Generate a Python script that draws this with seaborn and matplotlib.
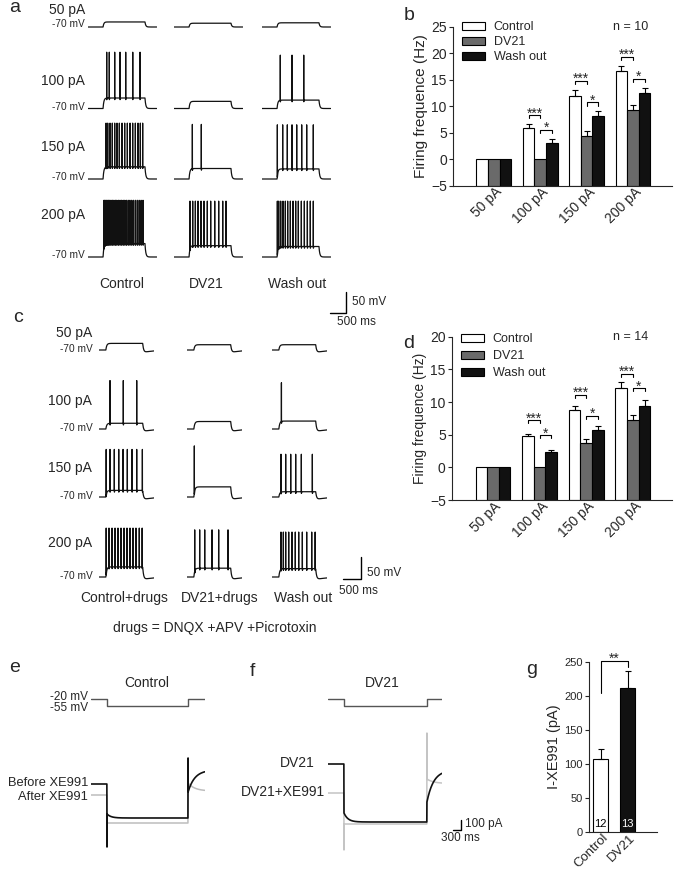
import numpy as np
import pandas as pd
import seaborn as sns
import matplotlib.pyplot as plt
from matplotlib.patches import Patch
from matplotlib.transforms import ScaledTranslation

# ---------------- values ----------------
currents = ['50 pA', '100 pA', '150 pA', '200 pA']
conditions = ['Control', 'DV21', 'Wash out']
bar_colors = ['white', '#6a6a6a', '#111111']

# b: firing frequency (Hz), n = 10
b_control = [0, 5.8, 12.0, 16.7]
b_dv21 = [0, 0, 4.4, 9.3]
b_wash = [0, 3.1, 8.1, 12.4]
b_control_err = [0, 0.8, 1.0, 0.9]
b_dv21_err = [0, 0, 1.0, 0.9]
b_wash_err = [0, 0.8, 1.0, 1.0]
b_sig_high = [8.3, 14.8, 19.3]   # *** brackets at 100/150/200 pA
b_sig_low = [5.6, 10.7, 15.2]    # * brackets

# d: firing frequency (Hz), n = 14
d_control = [0, 4.8, 8.8, 12.2]
d_dv21 = [0, 0, 3.7, 7.2]
d_wash = [0, 2.3, 5.7, 9.4]
d_control_err = [0, 0.3, 0.6, 0.8]
d_dv21_err = [0, 0, 0.6, 0.8]
d_wash_err = [0, 0.35, 0.7, 0.9]
d_sig_high = [7.2, 11.1, 14.3]
d_sig_low = [4.9, 7.9, 12.1]

# g: XE991-sensitive current (pA)
g_groups = ['Control', 'DV21']
g_current = [107, 212]
g_err = [16, 25]
g_n = ['12', '13']
g_sig = [205, 252, 243]   # left foot, top, right foot of ** bracket

# a: current-clamp sweeps (mV), rows = 50/100/150/200 pA
a_step = [470, 1780, 2150]          # step on, step off, sweep end (ms)
a_plateau_control = [-58, -45, -41, -38]
a_plateau_dv21 = [-61, -53, -45, -43]
a_plateau_wash = [-60, -50, -46, -45]
a_peak_control = [0, 64, 63, 65]
a_peak_dv21 = [0, 0, 60, 63]
a_peak_wash = [0, 57, 59, 63]
a_spikes_control = [[], [584, 666, 834, 1000, 1178, 1397, 1625],
                    [563, 615, 688, 760, 833, 906, 979, 1063, 1146, 1229, 1313, 1396, 1479, 1563, 1635, 1708],
                    [500, 530, 565, 600, 640, 680, 720, 765, 810, 855, 900, 950, 1000, 1050, 1100, 1150,
                     1200, 1255, 1310, 1365, 1420, 1480, 1540, 1600, 1660, 1720]]
a_spikes_dv21 = [[], [], [573, 854],
                 [500, 583, 667, 750, 844, 938, 1042, 1146, 1271, 1396, 1521, 1625]]
a_spikes_wash = [[], [572, 938, 1303],
                 [479, 646, 792, 938, 1084, 1240, 1396, 1604],
                 [480, 521, 583, 656, 729, 802, 885, 969, 1052, 1135, 1229, 1323, 1417, 1510, 1604]]

# c: same protocol with DNQX + APV + Picrotoxin
c_step = [190, 1215, 1530]
c_plateau_control = [-55, -57, -55, -47]
c_plateau_dv21 = [-58, -53, -47, -50]
c_plateau_wash = [-58, -52, -58, -51]
c_peak_control = [0, 40, 38, 41]
c_peak_dv21 = [0, 0, 46, 37]
c_peak_wash = [0, 35, 27, 32]
c_spikes_control = [[], [306, 676, 1047],
                    [200, 306, 426, 547, 667, 788, 917, 1047, 1205],
                    [200, 278, 361, 445, 528, 612, 695, 778, 861, 945, 1028, 1120, 1200]]
c_spikes_dv21 = [[], [], [204], [213, 352, 491, 695, 880, 1139]]
c_spikes_wash = [[], [261], [250, 380, 519, 658, 815, 1121],
                 [250, 315, 380, 463, 556, 648, 741, 843, 963, 1103, 1200]]

# e/f: voltage-clamp, command -20 -> -55 mV; currents (pA): hold, step, tail start, tail end
ef_command = [-20, -55]
ef_step = [600, 3640, 4275]
e_before = [0, -340, -80, 140]
e_after = [-110, -390, 10, -70]
e_transient = [-630, 260]
f_step = [600, 3710, 4275]
f_dv21 = [0, -580, -380, -60]
f_dv21_xe = [-290, -600, -150, -195]
f_transient = [-860, 310]

# ---------------- figure ----------------
sns.set_style('ticks')
plt.rcParams['font.family'] = ['Liberation Sans', 'DejaVu Sans']
plt.rcParams['axes.linewidth'] = 0.8

W, H = 675, 875
fig = plt.figure(figsize=(W / 100, H / 100), dpi=100)


def px_rect(left, top, right, bottom):
    return [left / W, 1 - bottom / H, (right - left) / W, (bottom - top) / H]


def label(x, y, s, size=10, **kw):
    kw.setdefault('va', 'center')
    fig.text(x / W, 1 - y / H, s, fontsize=size, **kw)


def cc_trace(step, plateau, peak, spikes, ahp=0):
    on, off, end = step
    t = np.arange(0, end, 2.0)
    rise = 1 - np.exp(-np.clip(t - on, 0, None) / 25)
    decay = np.exp(-np.clip(t - off, 0, None) / 25)
    v = -70 + (plateau + 70) * rise * decay
    v += ahp * (1 - decay) * np.exp(-np.clip(t - off, 0, None) / 300)
    k = np.arange(1, 12)
    for s in spikes:
        i = np.searchsorted(t, s)
        v[i] = peak
        v[i + k] -= 5 * np.exp(-k / 4)
    return t, v


def vc_trace(step, levels, overshoot=0.0, transient=None):
    on, off, end = step
    hold, during, tail0, tail1 = levels
    t = np.arange(0, end, 5.0)
    i = np.where(t < on, hold, during + overshoot * np.exp(-np.clip(t - on, 0, None) / 150))
    after = t >= off
    i[after] = tail1 + (tail0 - tail1) * np.exp(-(t[after] - off) / 250)
    if transient is not None:
        i[np.searchsorted(t, on)] = transient[0]
        i[np.searchsorted(t, off)] = transient[1]
    return t, i


def cc_panel(col_x, row_base, ms_px, mv_px, step, columns, ahp):
    axes = []
    for (plateau, peak, spikes), x0 in zip(columns, col_x):
        for r, base in enumerate(row_base):
            ax = fig.add_axes(px_rect(x0, base - 150 / mv_px, x0 + step[2] / ms_px, base + 25 / mv_px))
            t, v = cc_trace(step, plateau[r], peak[r], spikes[r], ahp)
            ax.plot(t, v, color='#111111', lw=0.9)
            ax.set_xlim(0, step[2])
            ax.set_ylim(-95, 80)
            ax.axis('off')
            axes.append(ax)
    return axes


def scale_bar(ax, x, y, dx, dy):
    ax.plot([x - dx, x, x], [y, y, y + dy], color='k', lw=1, clip_on=False)


def bracket(ax, x1, x2, h, arm, text):
    ax.plot([x1, x1, x2, x2], [h - arm, h, h, h - arm], color='k', lw=0.8, clip_on=False)
    ax.annotate(text, (0.5 * (x1 + x2), h), xytext=(0, -1.5), textcoords='offset points',
                ha='center', va='baseline', fontsize=10, annotation_clip=False)


def shift_ticklabels(ax, dx_px):
    for lab in ax.get_xticklabels():
        lab.set_transform(lab.get_transform() + ScaledTranslation(dx_px / 100, 0, fig.dpi_scale_trans))


def bar_panel(ax, values, errors, sig_high, sig_low, ymax, arm, n_text, ylab_size, leg_anchor, leg_space):
    df = pd.DataFrame({'current': currents * 3,
                       'condition': np.repeat(conditions, len(currents)),
                       'freq': sum(values, [])})
    sns.barplot(data=df, x='current', y='freq', hue='condition', palette=bar_colors,
                saturation=1, width=0.75, edgecolor='k', linewidth=0.8,
                errorbar=None, legend=False, ax=ax)
    bars = list(ax.containers)
    for cont, errs in zip(bars, errors):
        for p, e in zip(cont, errs):
            top = p.get_y() + p.get_height()
            p.set_y(-5)
            p.set_height(top + 5)
            if e > 0:
                ax.errorbar(p.get_x() + p.get_width() / 2, top, yerr=[[0], [e]], fmt='none',
                            ecolor='k', elinewidth=0.8, capsize=2.2, capthick=0.8)
    centers = [[p.get_x() + p.get_width() / 2 for p in cont] for cont in bars]
    for g in range(1, len(currents)):
        bracket(ax, centers[0][g], centers[1][g], sig_high[g - 1], arm, '***')
        bracket(ax, centers[1][g], centers[2][g], sig_low[g - 1], arm, '*')
    ax.set_ylim(-5, ymax)
    ax.set_yticks(range(-5, ymax + 1, 5))
    ax.set_xlim(-0.88, 3.84)
    ax.set_xlabel('')
    ax.set_ylabel('Firing frequence (Hz)', fontsize=ylab_size, labelpad=2)
    ax.tick_params(axis='y', labelsize=10, length=3, width=0.8, pad=1.5)
    ax.tick_params(axis='x', labelsize=10, length=0, pad=3)
    plt.setp(ax.get_xticklabels(), rotation=45, ha='right', va='center', rotation_mode='anchor')
    shift_ticklabels(ax, 6)
    sns.despine(ax=ax)
    handles = [Patch(facecolor=c, edgecolor='k', linewidth=0.8, label=l)
               for c, l in zip(bar_colors, conditions)]
    ax.legend(handles=handles, loc='upper left', bbox_to_anchor=leg_anchor, frameon=False,
              fontsize=9, handlelength=1.85, handleheight=0.65, labelspacing=leg_space,
              handletextpad=0.7, borderaxespad=0, borderpad=0)
    ax.text(0.81, 1.0, n_text, transform=ax.transAxes, fontsize=9, ha='center', va='center')


# ---- panel a ----
a_axes = cc_panel([88, 174, 262], [27, 108.5, 179, 257], 31.25, 2.381, a_step,
                  [(a_plateau_control, a_peak_control, a_spikes_control),
                   (a_plateau_dv21, a_peak_dv21, a_spikes_dv21),
                   (a_plateau_wash, a_peak_wash, a_spikes_wash)], 0)
scale_bar(a_axes[-1], 2625, -203, 500, 50)
for y_lab, y_mv, txt in zip([10, 81, 147, 215], [24, 107.5, 177, 255], currents):
    label(85, y_lab, txt, ha='right')
    label(85, y_mv, '-70 mV', size=7.3, ha='right')
for x, txt in zip([122, 206, 297], conditions):
    label(x, 284, txt, ha='center')
label(352, 302, '50 mV', size=8.5)
label(356, 322, '500 ms', size=8.5, ha='center')

# ---- panel c ----
c_axes = cc_panel([99, 187, 272], [350, 429, 497, 577], 27.8, 2.27, c_step,
                  [(c_plateau_control, c_peak_control, c_spikes_control),
                   (c_plateau_dv21, c_peak_dv21, c_spikes_dv21),
                   (c_plateau_wash, c_peak_wash, c_spikes_wash)], -6)
scale_bar(c_axes[-1], 2474, -74.5, 500, 50)
for y_lab, y_mv, txt in zip([333.5, 401, 468, 543.5], [349, 428, 496, 575.7], currents):
    label(92, y_lab, txt, ha='right')
    label(93, y_mv, '-70 mV', size=7.3, ha='right')
for x, txt in zip([124, 220, 303], ['Control+drugs', 'DV21+drugs', 'Wash out']):
    label(x, 598, txt, ha='center')
label(367, 573, '50 mV', size=8.5)
label(358, 591, '500 ms', size=8.5, ha='center')
label(215, 628, 'drugs = DNQX +APV +Picrotoxin', ha='center')

# ---- panels b and d ----
ax_b = fig.add_axes(px_rect(453, 26.7, 672, 185.7))
bar_panel(ax_b, [b_control, b_dv21, b_wash], [b_control_err, b_dv21_err, b_wash_err],
          b_sig_high, b_sig_low, 25, 0.57, 'n = 10', 11, (0.04, 1.035), 0.25)
ax_d = fig.add_axes(px_rect(452, 336.7, 672, 500))
bar_panel(ax_d, [d_control, d_dv21, d_wash], [d_control_err, d_dv21_err, d_wash_err],
          d_sig_high, d_sig_low, 20, 0.46, 'n = 14', 10, (0.04, 1.02), 0.4)

# ---- panels e and f ----
for (x0, x1), step, title, tx in [((91, 205), ef_step, 'Control', 147), ((328, 442), f_step, 'DV21', 382)]:
    ax = fig.add_axes(px_rect(x0, 690, x1, 715))
    on, off, end = step
    ax.plot([0, on, on, off, off, end],
            [ef_command[0], ef_command[0], ef_command[1], ef_command[1], ef_command[0], ef_command[0]],
            color='#555555', lw=1)
    ax.set_xlim(0, end)
    ax.set_ylim(-100, 25)
    ax.axis('off')
    label(tx, 683, title, ha='center')

ax_e = fig.add_axes(px_rect(91, 730, 205, 860))
t, i = vc_trace(ef_step, e_after)
ax_e.plot(t, i, color='#bdbdbd', lw=1.1)
t, i = vc_trace(ef_step, e_before, overshoot=40, transient=e_transient)
ax_e.plot(t, i, color='#111111', lw=1.2)
ax_e.set_xlim(0, ef_step[2])
ax_e.set_ylim(-760, 540)
ax_e.axis('off')

ax_f = fig.add_axes(px_rect(328, 720, 442, 860))
t, i = vc_trace(f_step, f_dv21_xe, transient=f_transient)
ax_f.plot(t, i, color='#c4c4c4', lw=1.1)
t, i = vc_trace(f_step, f_dv21, overshoot=90)
ax_f.plot(t, i, color='#111111', lw=1.2)
ax_f.set_xlim(0, f_step[2])
ax_f.set_ylim(-960, 440)
ax_f.axis('off')
scale_bar(ax_f, 4988, -660, 300, 100)

label(88, 696.5, '-20 mV', size=8.5, ha='right')
label(88, 708, '-55 mV', size=8.5, ha='right')
label(88, 783.5, 'Before XE991', size=9.3, ha='right')
label(88, 796.5, 'After XE991', size=9.3, ha='right')
label(315, 763, 'DV21', ha='right')
label(325, 792, 'DV21+XE991', ha='right')
label(465, 824, '100 pA', size=8.5)
label(441, 838, '300 ms', size=8.5)

# ---- panel g ----
ax_g = fig.add_axes(px_rect(589, 662.3, 657, 832))
sns.barplot(x=g_groups, y=g_current, hue=g_groups, palette=['white', '#111111'], saturation=1,
            width=0.56, edgecolor='k', linewidth=0.8, legend=False, ax=ax_g)
for cont, e, n, col in zip(ax_g.containers, g_err, g_n, ['k', 'white']):
    p = cont[0]
    xc = p.get_x() + p.get_width() / 2
    ax_g.errorbar(xc, p.get_height(), yerr=[[0], [e]], fmt='none', ecolor='k',
                  elinewidth=0.8, capsize=2.2, capthick=0.8)
    ax_g.text(xc, 5, n, ha='center', va='bottom', fontsize=8, color=col)
ax_g.plot([0, 0, 1, 1], g_sig[:1] + g_sig[1:2] * 2 + g_sig[2:], color='k', lw=0.8, clip_on=False)
ax_g.annotate('**', (0.5, g_sig[1]), xytext=(0, -1.5), textcoords='offset points',
              ha='center', va='baseline', fontsize=10, annotation_clip=False)
ax_g.set_ylim(0, 250)
ax_g.set_yticks(range(0, 251, 50))
ax_g.set_xlim(-0.43, 2.09)
ax_g.set_ylabel('I-XE991 (pA)', fontsize=10.5, labelpad=2)
ax_g.tick_params(axis='y', labelsize=8, length=3, width=0.8, pad=1.5)
ax_g.tick_params(axis='x', labelsize=9.5, length=0, pad=3)
plt.setp(ax_g.get_xticklabels(), rotation=45, ha='right', va='center', rotation_mode='anchor')
shift_ticklabels(ax_g, 6)
sns.despine(ax=ax_g)

# ---- panel letters ----
for x, y, s in [(15, 8, 'a'), (409, 15, 'b'), (18, 318, 'c'), (409, 344, 'd'),
                (15, 668, 'e'), (252, 672, 'f'), (532, 670, 'g')]:
    label(x, y, s, size=14, ha='center')

fig.savefig('out.png', dpi=100)
